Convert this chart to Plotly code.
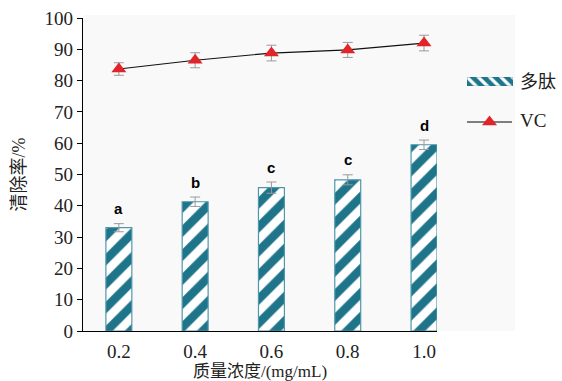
import plotly.graph_objects as go

categories = ["0.2", "0.4", "0.6", "0.8", "1.0"]
peptide = [33.0, 41.3, 45.8, 48.3, 59.5]
peptide_err = [1.3, 1.5, 1.8, 1.6, 1.5]
vc = [83.7, 86.5, 88.8, 89.8, 92.0]
vc_err = [2.0, 2.4, 2.5, 2.4, 2.5]
letters = ["a", "b", "c", "c", "d"]
series_names = ["多肽", "VC"]

teal = "#1e7489"
teal_edge = "#4f98ab"
red = "#e0242a"
serif = "Liberation Serif, Times New Roman, Noto Sans CJK SC"

W, H = 562, 381
ML, MR, MT, MB = 83, 10, 18, 50
pw, ph = W - ML - MR, H - MT - MB
main_right = 437


def px(x):
    return (x - ML) / pw


def py(y):
    return (H - MB - y) / ph


fig = go.Figure()
fig.add_trace(go.Bar(
    x=list(range(len(categories))), y=peptide, name=series_names[0], width=0.34,
    marker=dict(color="white", line=dict(color=teal_edge, width=1.2),
                pattern=dict(shape="/", fgcolor=teal, bgcolor="white", size=17,
                             solidity=0.5, fgopacity=1)),
    error_y=dict(type="data", array=peptide_err, color="#9a9a9a", thickness=1, width=5),
    showlegend=False,
))
fig.add_trace(go.Scatter(
    x=list(range(len(categories))), y=vc, name=series_names[1], mode="lines+markers",
    line=dict(color="#111", width=1.2),
    marker=dict(symbol="triangle-up", size=13, color=red, line=dict(width=0)),
    error_y=dict(type="data", array=vc_err, color="#9a9a9a", thickness=1, width=5),
    showlegend=False,
))
for i, (v, e, t) in enumerate(zip(peptide, peptide_err, letters)):
    fig.add_annotation(x=i, y=v + e, text="<b>" + t + "</b>", showarrow=False, yshift=15,
                       font=dict(family="Liberation Sans, Arial", size=15, color="black"))

# custom legend: patterned swatch on its own small axes
fig.add_trace(go.Bar(
    x=[1], y=[0], orientation="h", width=1, base=0, xaxis="x2", yaxis="y2",
    marker=dict(color=teal, line=dict(color=teal, width=0.5),
                pattern=dict(shape="\\", fgcolor="white", bgcolor=teal, size=8,
                             solidity=0.4, fgopacity=1)),
    showlegend=False, hoverinfo="skip",
))
fig.add_trace(go.Scatter(
    x=[0, 0.5, 1], y=[0, 0, 0], xaxis="x3", yaxis="y3", mode="lines",
    line=dict(color="#555", width=1.3), showlegend=False, hoverinfo="skip",
))
fig.add_trace(go.Scatter(
    x=[0.5], y=[0], xaxis="x3", yaxis="y3", mode="markers",
    marker=dict(symbol="triangle-up", size=13, color=red, line=dict(width=0)),
    showlegend=False, hoverinfo="skip",
))
fig.add_annotation(xref="paper", yref="paper", x=px(518), y=py(82), text=series_names[0],
                   showarrow=False, xanchor="left", yanchor="middle",
                   font=dict(family=serif, size=18, color="#222"))
fig.add_annotation(xref="paper", yref="paper", x=px(518), y=py(121), text=series_names[1],
                   showarrow=False, xanchor="left", yanchor="middle",
                   font=dict(family=serif, size=19, color="#222"))

# light grey panel behind plot and legend
fig.add_shape(type="rect", xref="paper", yref="paper", x0=0, x1=px(515), y0=0, y1=py(15),
              fillcolor="#f9f9f9", line=dict(width=0), layer="below")

hidden = dict(visible=False, fixedrange=True)
fig.update_layout(
    width=W, height=H,
    margin=dict(l=ML, r=MR, t=MT, b=MB),
    paper_bgcolor="white", plot_bgcolor="rgba(0,0,0,0)",
    font=dict(family=serif, size=17, color="#222"),
    showlegend=False,
    xaxis=dict(domain=[0, px(main_right)], range=[-0.47, 4.17], tickmode="array",
               tickvals=list(range(len(categories))), ticktext=categories,
               showline=True, linecolor="black", linewidth=1.2, ticks="", automargin=False,
               ticklabelstandoff=3,
               tickfont=dict(family=serif, size=19), showgrid=False, zeroline=False,
               title=dict(text="质量浓度/(mg/mL)", font=dict(family=serif, size=17), standoff=4)),
    yaxis=dict(range=[0, 100], dtick=10, showline=True, linecolor="black", linewidth=1.2,
               ticks="outside", ticklen=5, tickcolor="black", automargin=False,
               tickfont=dict(family=serif, size=19), showgrid=False, zeroline=False,
               title=dict(text="清除率/%", font=dict(family=serif, size=18), standoff=14)),
    xaxis2=dict(domain=[px(467), px(513)], range=[0, 1], anchor="y2", **hidden),
    yaxis2=dict(domain=[py(86), py(77)], range=[-0.5, 0.5], anchor="x2", **hidden),
    xaxis3=dict(domain=[px(467), px(512)], range=[0, 1], anchor="y3", **hidden),
    yaxis3=dict(domain=[py(132), py(112)], range=[-1, 1], anchor="x3", **hidden),
)

fig.write_html("out.html", config={"displayModeBar": False},
               post_script="document.body.style.margin='0px';")
